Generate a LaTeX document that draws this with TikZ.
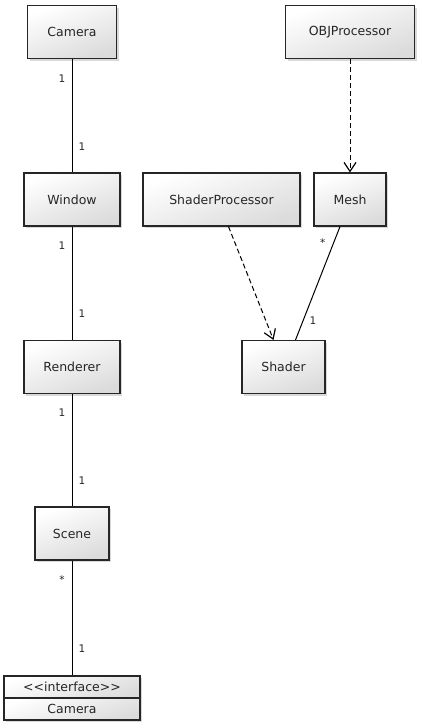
\documentclass[tikz,border=0pt]{standalone}
\usepackage{fontspec}
\setmainfont{DejaVu Sans}
\usetikzlibrary{arrows.meta, shadows}

\begin{document}
\begin{tikzpicture}[x=1pt, y=-1pt,
  cls/.style={draw=black!85, line width=1.1pt, minimum height=53pt, inner sep=0pt,
    top color=white, bottom color=black!14, shading angle=20,
    drop shadow={shadow xshift=2pt, shadow yshift=-2pt, fill=black!25, opacity=0.6},
    font=\fontsize{12.5}{14}\selectfont, text=black!85},
  assoc/.style={line width=1pt},
  dep/.style={line width=1pt, dash pattern=on 5pt off 3pt,
    -{Straight Barb[length=9pt, width=12pt, line width=1.2pt]}},
  mult/.style={font=\fontsize{10.5}{11}\selectfont, text=black!85, inner sep=0pt}]
  \useasboundingbox (0,0) rectangle (421,728);
  % left column
  \node[cls, minimum width=89pt] (camera) at (72,32) {Camera};
  \node[cls, minimum width=96pt] (window) at (72,199.5) {Window};
  \node[cls, minimum width=96pt] (renderer) at (72,367) {Renderer};
  \node[cls, minimum width=74pt] (scene) at (72,533.5) {Scene};
  \node[cls, minimum width=136pt, minimum height=22pt] (ifhead) at (72,687) {{<}{<}interface{>}{>}};
  \node[cls, minimum width=136pt, minimum height=22pt] (ifcam) at (72,709) {Camera};
  % right side
  \node[cls, minimum width=129pt] (objproc) at (350,32) {OBJProcessor};
  \node[cls, minimum width=157pt] (shaderproc) at (221.5,199.5) {ShaderProcessor};
  \node[cls, minimum width=72pt] (mesh) at (350,199.5) {Mesh};
  \node[cls, minimum width=83pt] (shader) at (283.5,367) {Shader};
  % associations
  \draw[assoc] (camera) -- (window)
    node[mult, pos=0.17, xshift=-10pt] {1}
    node[mult, pos=0.77, xshift=10pt] {1};
  \draw[assoc] (window) -- (renderer)
    node[mult, pos=0.17, xshift=-10pt] {1}
    node[mult, pos=0.77, xshift=10pt] {1};
  \draw[assoc] (renderer) -- (scene)
    node[mult, pos=0.17, xshift=-10pt] {1}
    node[mult, pos=0.77, xshift=10pt] {1};
  \draw[assoc] (scene) -- (ifhead)
    node[mult, pos=0.17, xshift=-10pt] {*}
    node[mult, pos=0.77, xshift=10pt] {1};
  \draw[assoc] ([xshift=-10pt]mesh.south) -- ([xshift=12pt]shader.north)
    node[mult, pos=0.14, xshift=-11pt] {*}
    node[mult, pos=0.83, xshift=10pt] {1};
  % dependencies
  \draw[dep] (objproc) -- (mesh);
  \draw[dep] ([xshift=7pt]shaderproc.south) -- ([xshift=-10pt]shader.north);
\end{tikzpicture}
\end{document}
